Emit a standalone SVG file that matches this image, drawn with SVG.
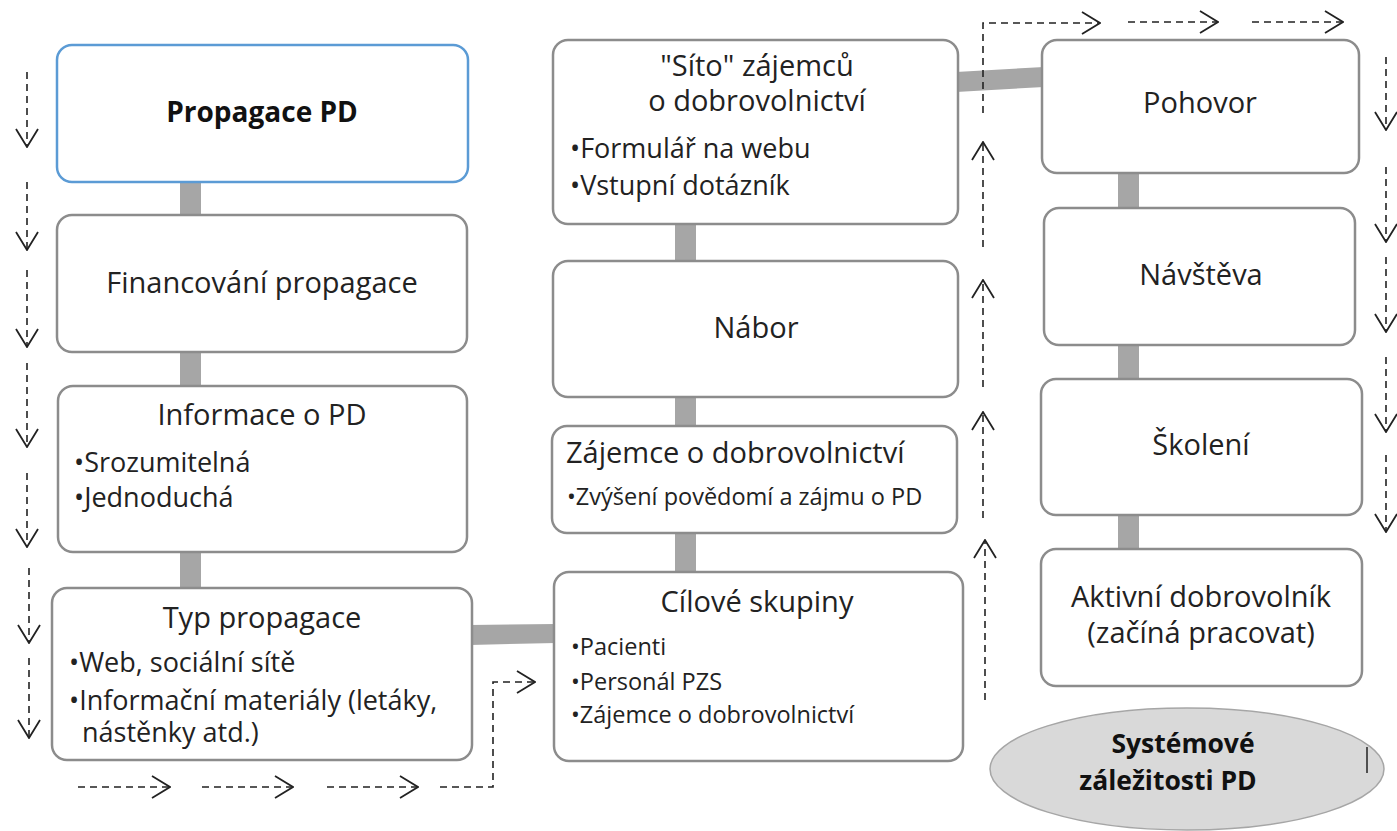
<svg xmlns="http://www.w3.org/2000/svg" width="1397" height="831" viewBox="0 0 1397 831">
<style>
.box{fill:#fff;stroke:#8c8c8c;stroke-width:2.5}
.blue{stroke:#5b9bd5}
.con{fill:#a6a6a6;stroke:none}
.dash{fill:none;stroke:#222;stroke-width:1.6;stroke-dasharray:7 5}
text{font-family:"Open Sans","Liberation Sans",sans-serif;fill:#222}
.t{font-size:27px}
.h{font-size:29px}
.c{text-anchor:middle}
.s{font-size:23.5px}
.b{font-weight:bold;font-size:28px;fill:#111}
.e{font-weight:bold;font-size:26.5px;fill:#111}
</style>
<defs>
<marker id="ah" markerUnits="userSpaceOnUse" viewBox="0 0 20 24" markerWidth="20" markerHeight="24" refX="19" refY="12" orient="auto">
<path d="M1,1 L19,12 L1,23" fill="none" stroke="#222" stroke-width="1.8" stroke-dasharray="none"/>
</marker>
</defs>
<rect width="1397" height="831" fill="#fff"/>
<g id="connectors">
<rect class="con" x="180" y="180" width="21" height="38"/>
<rect class="con" x="180" y="350" width="21" height="38"/>
<rect class="con" x="180" y="549" width="21" height="41"/>
<polygon class="con" points="470,625 556,624 556,643 470,645"/>
<rect class="con" x="675" y="222" width="21" height="41"/>
<rect class="con" x="675" y="395" width="21" height="32"/>
<rect class="con" x="675" y="531" width="21" height="43"/>
<polygon class="con" points="956,72 1044,67 1044,87 956,92"/>
<rect class="con" x="1118" y="171" width="21" height="39"/>
<rect class="con" x="1118" y="343" width="21" height="38"/>
<rect class="con" x="1118" y="514" width="21" height="37"/>
</g>
<g id="node-propagace"><rect class="box blue" x="57" y="45" width="411" height="137" rx="15"/><text class="b c" x="262" y="122">Propagace PD</text></g>
<g id="node-financovani"><rect class="box" x="57" y="215" width="410" height="137" rx="15"/><text class="h c" x="262" y="293">Financování propagace</text></g>
<g id="node-informace"><rect class="box" x="58" y="386" width="409" height="166" rx="15"/><text class="h c" x="262" y="425">Informace o PD</text><text class="t" x="74" y="472">•Srozumitelná</text><text class="t" x="74" y="507">•Jednoduchá</text></g>
<g id="node-typ"><rect class="box" x="52" y="588" width="420" height="172" rx="15"/><text class="h c" x="262" y="628">Typ propagace</text><text class="t" x="69" y="672">•Web, sociální sítě</text><text class="t" x="69" y="710">•Informační materiály (letáky,</text><text class="t" x="82" y="742">nástěnky atd.)</text></g>
<g id="node-sito"><rect class="box" x="553" y="40" width="405" height="184" rx="15"/><text class="h c" x="757" y="76">"Síto" zájemců</text><text class="h c" x="757" y="111">o dobrovolnictví</text><text class="t" x="570" y="158">•Formulář na webu</text><text class="t" x="570" y="195">•Vstupní dotázník</text></g>
<g id="node-nabor"><rect class="box" x="553" y="261" width="405" height="136" rx="15"/><text class="h c" x="756" y="338">Nábor</text></g>
<g id="node-zajemce"><rect class="box" x="552" y="426" width="405" height="107" rx="15"/><text class="h" x="566" y="463">Zájemce o dobrovolnictví</text><text class="s" x="567" y="505">•Zvýšení povědomí a zájmu o PD</text></g>
<g id="node-cilove"><rect class="box" x="554" y="572" width="409" height="189" rx="15"/><text class="h c" x="757" y="612">Cílové skupiny</text><text class="s" x="571" y="655">•Pacienti</text><text class="s" x="571" y="690">•Personál PZS</text><text class="s" x="571" y="723">•Zájemce o dobrovolnictví</text></g>
<g id="node-pohovor"><rect class="box" x="1042" y="40" width="317" height="133" rx="15"/><text class="h c" x="1200" y="113">Pohovor</text></g>
<g id="node-navsteva"><rect class="box" x="1044" y="208" width="311" height="137" rx="15"/><text class="h c" x="1201" y="285">Návštěva</text></g>
<g id="node-skoleni"><rect class="box" x="1041" y="379" width="321" height="136" rx="15"/><text class="h c" x="1201" y="455">Školení</text></g>
<g id="node-aktivni"><rect class="box" x="1041" y="549" width="321" height="137" rx="15"/><text class="h c" x="1201" y="607">Aktivní dobrovolník</text><text class="h c" x="1201" y="643">(začíná pracovat)</text></g>
<g id="node-systemove"><ellipse cx="1187" cy="769" rx="197" ry="61" fill="#d9d9d9" stroke="#a6a6a6" stroke-width="1.5"/><text class="e c" x="1183" y="753">Systémové</text><text class="e c" x="1168" y="790">záležitosti PD</text><line x1="1367" y1="747" x2="1367" y2="773" stroke="#222" stroke-width="1.5"/></g>
<g id="flow-arrows">
<line class="dash" x1="27" y1="72" x2="27" y2="147" marker-end="url(#ah)"/>
<line class="dash" x1="27" y1="182" x2="27" y2="250" marker-end="url(#ah)"/>
<line class="dash" x1="27" y1="270" x2="27" y2="347" marker-end="url(#ah)"/>
<line class="dash" x1="27" y1="363" x2="27" y2="447" marker-end="url(#ah)"/>
<line class="dash" x1="27" y1="473" x2="27" y2="547" marker-end="url(#ah)"/>
<line class="dash" x1="29" y1="568" x2="29" y2="643" marker-end="url(#ah)"/>
<line class="dash" x1="29" y1="658" x2="29" y2="738" marker-end="url(#ah)"/>
<line class="dash" x1="78" y1="787" x2="170" y2="787" marker-end="url(#ah)"/>
<line class="dash" x1="202" y1="787" x2="293" y2="787" marker-end="url(#ah)"/>
<line class="dash" x1="327" y1="787" x2="418" y2="787" marker-end="url(#ah)"/>
<polyline class="dash" points="440,787 493,787 493,682 535,682" marker-end="url(#ah)"/>
<line class="dash" x1="983" y1="247" x2="983" y2="142" marker-end="url(#ah)"/>
<line class="dash" x1="983" y1="387" x2="983" y2="280" marker-end="url(#ah)"/>
<line class="dash" x1="983" y1="518" x2="983" y2="412" marker-end="url(#ah)"/>
<line class="dash" x1="985" y1="700" x2="985" y2="540" marker-end="url(#ah)"/>
<polyline class="dash" points="983,113 983,23 1100,23" marker-end="url(#ah)"/>
<line class="dash" x1="1128" y1="22" x2="1218" y2="22" marker-end="url(#ah)"/>
<line class="dash" x1="1252" y1="22" x2="1343" y2="22" marker-end="url(#ah)"/>
<line class="dash" x1="1386" y1="57" x2="1386" y2="130" marker-end="url(#ah)"/>
<line class="dash" x1="1386" y1="167" x2="1386" y2="242" marker-end="url(#ah)"/>
<line class="dash" x1="1386" y1="257" x2="1386" y2="332" marker-end="url(#ah)"/>
<line class="dash" x1="1386" y1="357" x2="1386" y2="432" marker-end="url(#ah)"/>
<line class="dash" x1="1386" y1="455" x2="1386" y2="532" marker-end="url(#ah)"/>
</g>
</svg>
